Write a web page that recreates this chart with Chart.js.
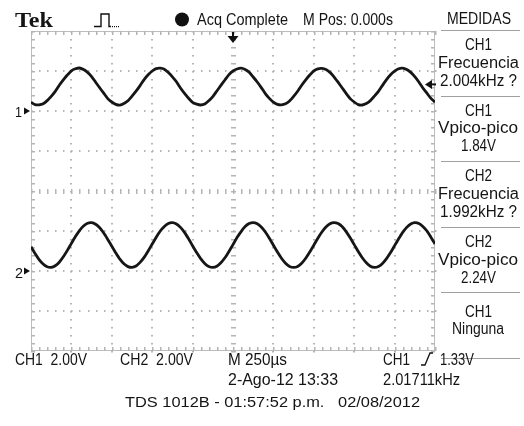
<!DOCTYPE html>
<html>
<head>
<meta charset="utf-8">
<style>
  html, body { margin: 0; padding: 0; background: #fff; }
  #wrap { position: relative; width: 524px; height: 426px; overflow: hidden; background: #fff; }
  #scope { position: absolute; left: 0; top: 0; }
  .lbl { position: absolute; white-space: pre; line-height: 1; color: #141414;
         font-family: "Liberation Sans", Arial, sans-serif; transform-origin: 0 50%; }
</style>
<script src="https://cdn.jsdelivr.net/npm/chart.js@4"></script>
</head>
<body>
<div id="wrap">
  <canvas id="scope" width="524" height="426"></canvas>
</div>
<script>
// sample times in microseconds (M 250us/div, 10 divisions, M Pos 0.000s)
const timeUs = [
  -1250, -1225, -1200, -1175, -1150, -1125, -1100, -1075, -1050, -1025,
  -1000, -975, -950, -925, -900, -875, -850, -825, -800, -775,
  -750, -725, -700, -675, -650, -625, -600, -575, -550, -525,
  -500, -475, -450, -425, -400, -375, -350, -325, -300, -275,
  -250, -225, -200, -175, -150, -125, -100, -75, -50, -25,
  0, 25, 50, 75, 100, 125, 150, 175, 200, 225,
  250, 275, 300, 325, 350, 375, 400, 425, 450, 475,
  500, 525, 550, 575, 600, 625, 650, 675, 700, 725,
  750, 775, 800, 825, 850, 875, 900, 925, 950, 975,
  1000, 1025, 1050, 1075, 1100, 1125, 1150, 1175, 1200, 1225,
  1250
];

// CH1 trace, volts (2.00V/div)
const ch1Volts = [
  0.44, 0.32, 0.31, 0.36, 0.52, 0.73, 0.98, 1.29, 1.56, 1.80,
  2.01, 2.11, 2.15, 2.07, 1.93, 1.72, 1.44, 1.16, 0.89, 0.62,
  0.45, 0.33, 0.29, 0.37, 0.51, 0.74, 0.99, 1.27, 1.57, 1.81,
  2.00, 2.12, 2.14, 2.09, 1.92, 1.71, 1.46, 1.15, 0.88, 0.64,
  0.43, 0.34, 0.30, 0.35, 0.51, 0.72, 1.00, 1.28, 1.55, 1.82,
  2.00, 2.10, 2.14, 2.08, 1.94, 1.70, 1.45, 1.17, 0.87, 0.63,
  0.44, 0.33, 0.31, 0.36, 0.50, 0.73, 0.99, 1.29, 1.56, 1.80,
  2.01, 2.11, 2.13, 2.08, 1.93, 1.71, 1.44, 1.16, 0.88, 0.62,
  0.45, 0.32, 0.30, 0.37, 0.52, 0.74, 0.98, 1.28, 1.57, 1.81,
  1.99, 2.11, 2.14, 2.07, 1.93, 1.72, 1.45, 1.15, 0.89, 0.63,
  0.44
];

// CH2 trace, volts (2.00V/div)
const ch2Volts = [
  1.21, 0.87, 0.57, 0.35, 0.21, 0.18, 0.26, 0.44, 0.71, 1.03,
  1.38, 1.72, 2.02, 2.25, 2.39, 2.42, 2.34, 2.16, 1.90, 1.58,
  1.24, 0.90, 0.59, 0.36, 0.22, 0.18, 0.25, 0.43, 0.68, 1.00,
  1.35, 1.69, 2.00, 2.23, 2.38, 2.42, 2.35, 2.18, 1.93, 1.61,
  1.26, 0.92, 0.62, 0.38, 0.23, 0.18, 0.24, 0.41, 0.66, 0.98,
  1.32, 1.67, 1.97, 2.22, 2.37, 2.42, 2.36, 2.20, 1.95, 1.64,
  1.29, 0.95, 0.64, 0.39, 0.23, 0.18, 0.23, 0.39, 0.64, 0.95,
  1.29, 1.64, 1.95, 2.20, 2.36, 2.42, 2.37, 2.22, 1.97, 1.66,
  1.32, 0.97, 0.66, 0.41, 0.24, 0.18, 0.23, 0.38, 0.62, 0.92,
  1.27, 1.61, 1.93, 2.18, 2.35, 2.42, 2.38, 2.23, 2.00, 1.69,
  1.35
];

const triggerLevel = 1.33; // CH1 trigger, volts

// screen text: text, x (left or centre), y (cap centre), size, width
const screenText = [
  { text: 'Tek', x: 15, y: 20, size: 22, w: 38, font: '"Liberation Serif", "DejaVu Serif", serif', bold: true },
  { text: 'Acq Complete', x: 197, y: 19, size: 17, w: 91 },
  { text: 'M Pos: 0.000s', x: 303, y: 19, size: 17, w: 90 },
  { text: 'MEDIDAS', x: 479, y: 19, size: 16, w: 64, align: 'center' },
  { text: 'CH1', x: 478, y: 45, size: 16, w: 27, align: 'center' },
  { text: 'Frecuencia', x: 478, y: 63, size: 16, w: 81, align: 'center' },
  { text: '2.004kHz ?', x: 478, y: 81, size: 16, w: 77, align: 'center' },
  { text: 'CH1', x: 478, y: 111, size: 16, w: 27, align: 'center' },
  { text: 'Vpico-pico', x: 478, y: 128, size: 16, w: 80, align: 'center' },
  { text: '1.84V', x: 478, y: 146, size: 16, w: 35, align: 'center' },
  { text: 'CH2', x: 478, y: 176, size: 16, w: 27, align: 'center' },
  { text: 'Frecuencia', x: 478, y: 194, size: 16, w: 81, align: 'center' },
  { text: '1.992kHz ?', x: 478, y: 212, size: 16, w: 77, align: 'center' },
  { text: 'CH2', x: 478, y: 242, size: 16, w: 27, align: 'center' },
  { text: 'Vpico-pico', x: 478, y: 260, size: 16, w: 80, align: 'center' },
  { text: '2.24V', x: 478, y: 278, size: 16, w: 35, align: 'center' },
  { text: 'CH1', x: 478, y: 312, size: 16, w: 27, align: 'center' },
  { text: 'Ninguna', x: 478, y: 329, size: 16, w: 52, align: 'center' },
  { text: '1', x: 15, y: 111, size: 15, w: 7 },
  { text: '2', x: 15, y: 272, size: 15, w: 8 },
  { text: 'CH1  2.00V', x: 15, y: 359, size: 17, w: 72 },
  { text: 'CH2  2.00V', x: 120, y: 359, size: 17, w: 73 },
  { text: 'M 250µs', x: 228, y: 359, size: 17, w: 59 },
  { text: 'CH1', x: 383, y: 359, size: 17, w: 27 },
  { text: '1.33V', x: 440, y: 359, size: 17, w: 34 },
  { text: '2-Ago-12 13:33', x: 228, y: 379, size: 17, w: 110 },
  { text: '2.01711kHz', x: 383, y: 379, size: 17, w: 77 },
  { text: 'TDS 1012B - 01:57:52 p.m.   02/08/2012', x: 125, y: 401, size: 15, w: 295 }
];

const panelLines = [30, 96, 161, 227, 292, 358];

function placeText(wrap, t) {
  const el = document.createElement('div');
  el.className = 'lbl';
  el.textContent = t.text;
  el.style.fontSize = t.size + 'px';
  if (t.font) el.style.fontFamily = t.font;
  if (t.bold) el.style.fontWeight = 'bold';
  wrap.appendChild(el);
  const natural = el.getBoundingClientRect().width;
  const left = t.align === 'center' ? t.x - t.w / 2 : t.x;
  el.style.left = left + 'px';
  el.style.top = (t.y - t.size / 2) + 'px';
  el.style.transform = 'scaleX(' + (t.w / natural).toFixed(3) + ')';
}

// graticule: 10 x 8 divisions, dotted lines, ticked border and centre cross
const graticule = {
  id: 'graticule',
  beforeDatasetsDraw(chart) {
    const { ctx, chartArea: a, scales: { x, y } } = chart;
    const minorT = [], minorV = [];
    for (let t = -1250; t <= 1250; t += 50) minorT.push(t);
    for (let v = -12; v <= 4.001; v += 0.4) minorV.push(v);
    ctx.save();
    ctx.fillStyle = '#b4b4b4';
    // vertical division lines
    for (let t = -1000; t <= 1000; t += 250) {
      if (t === 0) continue;
      const px = Math.round(x.getPixelForValue(t));
      minorV.forEach(v => ctx.fillRect(px - 1, Math.round(y.getPixelForValue(v)), 2, 1.5));
    }
    // horizontal division lines
    for (let v = -10; v <= 2; v += 2) {
      if (v === -4) continue;
      const py = Math.round(y.getPixelForValue(v));
      minorT.forEach(t => ctx.fillRect(Math.round(x.getPixelForValue(t)), py - 1, 1.5, 2));
    }
    // centre cross with ticks
    const cx = Math.round(x.getPixelForValue(0));
    const cy = Math.round(y.getPixelForValue(-4));
    minorV.forEach(v => ctx.fillRect(cx - 2, Math.round(y.getPixelForValue(v)), 5, 1.5));
    minorT.forEach(t => ctx.fillRect(Math.round(x.getPixelForValue(t)), cy - 2, 1.5, 5));
    // border with inward ticks
    ctx.strokeStyle = '#bdbdbd';
    ctx.lineWidth = 1;
    ctx.strokeRect(a.left + 0.5, a.top + 0.5, a.right - a.left - 1, a.bottom - a.top - 1);
    minorT.forEach(t => {
      const px = Math.round(x.getPixelForValue(t));
      ctx.fillRect(px, a.top, 1.5, 4);
      ctx.fillRect(px, a.bottom - 4, 1.5, 4);
    });
    minorV.forEach(v => {
      const py = Math.round(y.getPixelForValue(v));
      ctx.fillRect(a.left, py, 4, 1.5);
      ctx.fillRect(a.right - 4, py, 4, 1.5);
    });
    ctx.restore();
  },
  afterDraw(chart) {
    const { ctx, chartArea: a, scales: { x, y, y2 } } = chart;
    ctx.save();
    ctx.fillStyle = '#111';
    ctx.strokeStyle = '#111';
    // ground markers
    [y.getPixelForValue(0), y2.getPixelForValue(0)].forEach(py => {
      ctx.beginPath();
      ctx.moveTo(a.left - 7, py - 3.5);
      ctx.lineTo(a.left - 1, py);
      ctx.lineTo(a.left - 7, py + 3.5);
      ctx.closePath();
      ctx.fill();
    });
    // trigger position arrow
    const tx = x.getPixelForValue(0);
    ctx.lineWidth = 2;
    ctx.beginPath();
    ctx.moveTo(tx, a.top + 1);
    ctx.lineTo(tx, a.top + 7);
    ctx.stroke();
    ctx.beginPath();
    ctx.moveTo(tx - 5.5, a.top + 5);
    ctx.lineTo(tx + 5.5, a.top + 5);
    ctx.lineTo(tx, a.top + 12);
    ctx.closePath();
    ctx.fill();
    // trigger level arrow
    const ty = y.getPixelForValue(triggerLevel);
    ctx.beginPath();
    ctx.moveTo(a.right - 3, ty);
    ctx.lineTo(a.right + 1, ty);
    ctx.stroke();
    ctx.beginPath();
    ctx.moveTo(a.right - 10, ty);
    ctx.lineTo(a.right - 3, ty - 4.5);
    ctx.lineTo(a.right - 3, ty + 4.5);
    ctx.closePath();
    ctx.fill();
    // rising-edge trigger symbol in the status line
    ctx.lineWidth = 1.3;
    ctx.beginPath();
    ctx.moveTo(421, 365);
    ctx.lineTo(425, 365);
    ctx.lineTo(430, 353);
    ctx.lineTo(433, 353);
    ctx.stroke();
    // pulse icon
    ctx.lineWidth = 1.4;
    ctx.beginPath();
    ctx.moveTo(94, 26.5);
    ctx.lineTo(101, 26.5);
    ctx.lineTo(101, 14);
    ctx.lineTo(109, 14);
    ctx.lineTo(109, 26.5);
    ctx.lineTo(111, 26.5);
    ctx.stroke();
    for (let px = 112; px < 120; px += 2) ctx.fillRect(px, 26, 1, 1.2);
    // acquisition dot
    ctx.beginPath();
    ctx.arc(182, 19.5, 7, 0, Math.PI * 2);
    ctx.fill();
    // menu separators
    ctx.strokeStyle = '#a0a0a0';
    ctx.lineWidth = 1;
    panelLines.forEach(py => {
      ctx.beginPath();
      ctx.moveTo(441, py + 0.5);
      ctx.lineTo(520, py + 0.5);
      ctx.stroke();
    });
    ctx.restore();
  }
};

document.addEventListener('DOMContentLoaded', function () {
  const wrap = document.getElementById('wrap');
  const ctx = document.getElementById('scope').getContext('2d');

  new Chart(ctx, {
    type: 'line',
    data: {
      datasets: [
        {
          label: 'CH1',
          data: timeUs.map((t, i) => ({ x: t, y: ch1Volts[i] })),
          yAxisID: 'y',
          borderColor: '#161616',
          borderWidth: 2.8,
          pointRadius: 0,
          tension: 0.2
        },
        {
          label: 'CH2',
          data: timeUs.map((t, i) => ({ x: t, y: ch2Volts[i] })),
          yAxisID: 'y2',
          borderColor: '#161616',
          borderWidth: 2.8,
          pointRadius: 0,
          tension: 0.2
        }
      ]
    },
    options: {
      responsive: false,
      animation: false,
      events: [],
      layout: { padding: { left: 31, top: 31, right: 89, bottom: 75 } },
      plugins: { legend: { display: false }, tooltip: { enabled: false } },
      scales: {
        x: { type: 'linear', min: -1250, max: 1250, display: false },
        y: { min: -12, max: 4, display: false },   // CH1 ground 2 div below top
        y2: { min: -4, max: 12, display: false }   // CH2 ground 2 div above bottom
      }
    },
    plugins: [graticule]
  });

  screenText.forEach(t => placeText(wrap, t));
});
</script>
</body>
</html>
